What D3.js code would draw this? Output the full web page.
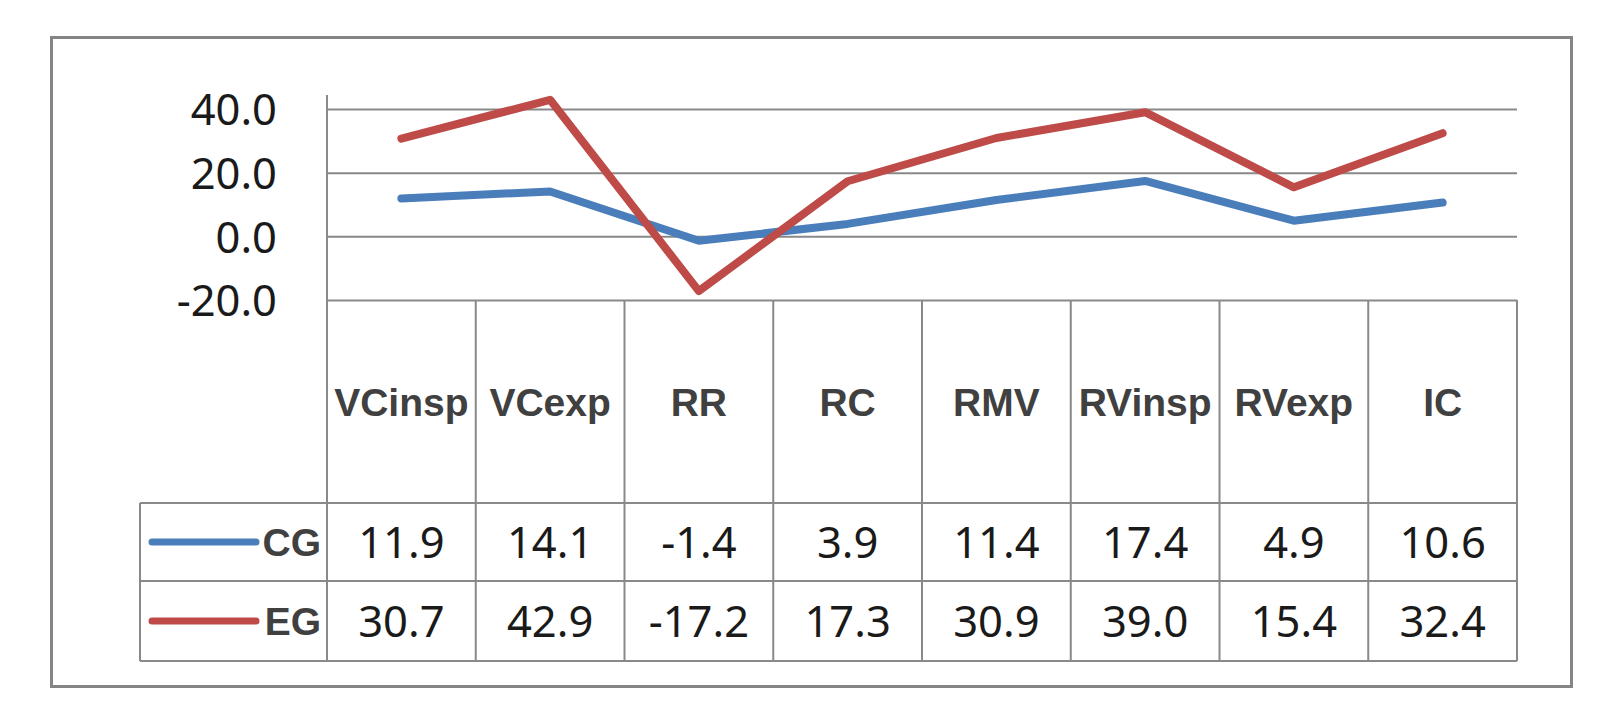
<!DOCTYPE html>
<html>
<head>
<meta charset="utf-8">
<script src="https://cdn.jsdelivr.net/npm/d3@7"></script>
<style>
  html, body { margin: 0; padding: 0; background: #ffffff; }
  svg { display: block; }
</style>
</head>
<body>
<svg id="chart" width="1623" height="704"></svg>
<script>
const categories = ["VCinsp", "VCexp", "RR", "RC", "RMV", "RVinsp", "RVexp", "IC"];
const cgValues = [11.9, 14.1, -1.4, 3.9, 11.4, 17.4, 4.9, 10.6];
const egValues = [30.7, 42.9, -17.2, 17.3, 30.9, 39.0, 15.4, 32.4];
const seriesNames = ["CG", "EG"];
const seriesColors = ["#4A7EBB", "#BE4B48"];
const yTicks = [-20, 0, 20, 40];

const series = [
  { name: seriesNames[0], values: cgValues, color: seriesColors[0] },
  { name: seriesNames[1], values: egValues, color: seriesColors[1] }
];

const svg = d3.select("#chart");
const W = 1623, H = 704;

svg.append("rect").attr("x", 0).attr("y", 0).attr("width", W).attr("height", H).attr("fill", "#fff");

// outer frame
svg.append("rect")
  .attr("x", 51.5).attr("y", 37.5).attr("width", 1520).attr("height", 649)
  .attr("fill", "#fff").attr("stroke", "#858585").attr("stroke-width", 3);

const plotLeft = 327, plotRight = 1517;
const x = d3.scaleBand().domain(categories).range([plotLeft, plotRight]).padding(0);
const y = d3.scaleLinear().domain([-20, 44.4]).range([300, 95]);

const gridColor = "#898989";
const numFont = "'Noto Sans', 'Open Sans', sans-serif";
const catFont = "'Liberation Sans', Arial, sans-serif";

// gridlines
const grid = svg.append("g").attr("transform", `translate(${plotLeft},0)`)
  .call(d3.axisLeft(y).tickValues(yTicks).tickSize(-(plotRight - plotLeft)).tickFormat(""));
grid.select(".domain").remove();
grid.selectAll(".tick line").attr("stroke", gridColor).attr("stroke-width", 2);

// y axis labels
const yAxis = svg.append("g").attr("transform", `translate(${plotLeft},0)`)
  .call(d3.axisLeft(y).tickValues(yTicks).tickSize(0).tickPadding(50).tickFormat(d => d.toFixed(1)));
yAxis.select(".domain").remove();
yAxis.selectAll(".tick text")
  .attr("font-family", numFont).attr("font-size", 43.5).attr("fill", "#1a1a1a")
  .attr("dy", "0.36em");

// table geometry
const tableTop = y(-20);
const headerBottom = 503;
const rowBottoms = [581, 661];
const tableLeft = 140;

const tbl = svg.append("g").attr("stroke", gridColor).attr("stroke-width", 2).attr("fill", "none");
// vertical lines at column boundaries (first one doubles as y axis)
const bounds = categories.map(c => x(c)).concat([plotRight]);
bounds.forEach((bx, i) => {
  tbl.append("line").attr("x1", bx).attr("x2", bx)
    .attr("y1", i === 0 ? y(44.4) : tableTop).attr("y2", rowBottoms[1]);
});
// horizontal lines of the table
[headerBottom].concat(rowBottoms).forEach(yy => {
  tbl.append("line").attr("x1", tableLeft).attr("x2", plotRight).attr("y1", yy).attr("y2", yy);
});
tbl.append("line").attr("x1", tableLeft).attr("x2", tableLeft).attr("y1", headerBottom).attr("y2", rowBottoms[1]);

// category labels
svg.append("g").selectAll("text").data(categories).join("text")
  .attr("x", d => x(d) + x.bandwidth() / 2)
  .attr("y", (tableTop + headerBottom) / 2)
  .attr("dy", "0.36em")
  .attr("text-anchor", "middle")
  .attr("font-family", catFont).attr("font-weight", "bold").attr("font-size", 39)
  .attr("fill", "#404040")
  .text(d => d);

// data rows
const rowTops = [headerBottom, rowBottoms[0]];
series.forEach((s, si) => {
  const cy = (rowTops[si] + rowBottoms[si]) / 2;
  const g = svg.append("g");
  g.append("line")
    .attr("x1", 152).attr("x2", 256).attr("y1", cy).attr("y2", cy)
    .attr("stroke", s.color).attr("stroke-width", 7).attr("stroke-linecap", "round");
  g.append("text")
    .attr("x", 321).attr("y", cy).attr("dy", "0.36em").attr("text-anchor", "end")
    .attr("font-family", catFont).attr("font-weight", "bold").attr("font-size", 39)
    .attr("fill", "#404040").text(s.name);
  g.selectAll("text.val").data(s.values).join("text").attr("class", "val")
    .attr("x", (d, i) => x(categories[i]) + x.bandwidth() / 2)
    .attr("y", cy).attr("dy", "0.36em").attr("text-anchor", "middle")
    .attr("font-family", numFont).attr("font-size", 43.5).attr("fill", "#1a1a1a")
    .text(d => d.toFixed(1));
});

// lines
const line = d3.line()
  .x((d, i) => x(categories[i]) + x.bandwidth() / 2)
  .y(d => y(d));
series.forEach(s => {
  svg.append("path").datum(s.values)
    .attr("d", line)
    .attr("fill", "none")
    .attr("stroke", s.color)
    .attr("stroke-width", 8)
    .attr("stroke-linejoin", "round")
    .attr("stroke-linecap", "round");
});
</script>
</body>
</html>
